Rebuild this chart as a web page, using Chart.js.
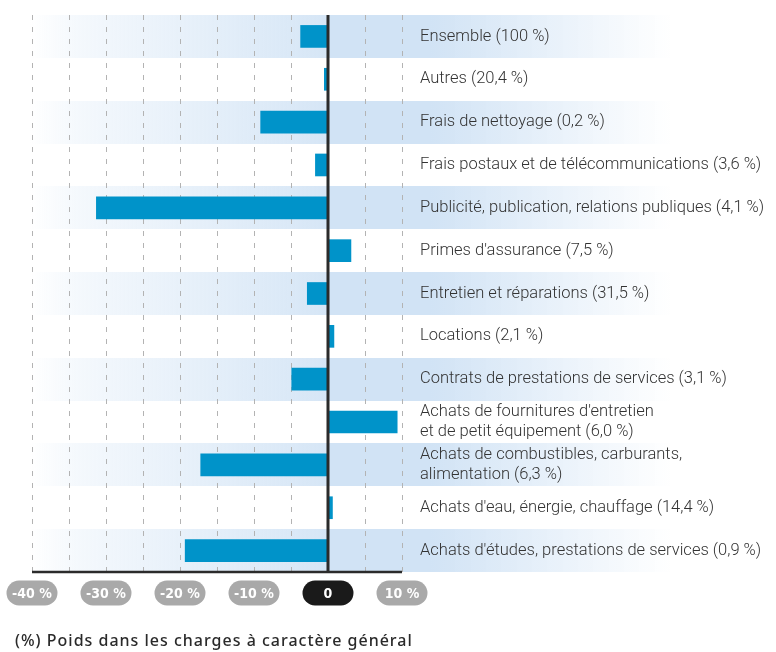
<!DOCTYPE html>
<html lang="fr">
<head>
  <meta charset="UTF-8" />
  <title>Poids dans les charges à caractère général</title>
  <script src="https://cdn.jsdelivr.net/npm/chart.js"></script>
  <style>
    html, body { margin: 0; padding: 0; background: #fff; }
    #wrap { width: 776px; height: 652px; }
  </style>
</head>
<body>
  <div id="wrap"><canvas id="chart" width="776" height="652"></canvas></div>

  <script>
    const categories = [
      'Ensemble (100 %)',
      'Autres (20,4 %)',
      'Frais de nettoyage (0,2 %)',
      'Frais postaux et de télécommunications (3,6 %)',
      'Publicité, publication, relations publiques (4,1 %)',
      "Primes d'assurance (7,5 %)",
      'Entretien et réparations (31,5 %)',
      'Locations (2,1 %)',
      'Contrats de prestations de services (3,1 %)',
      ["Achats de fournitures d'entretien", 'et de petit équipement (6,0 %)'],
      ['Achats de combustibles, carburants,', 'alimentation (6,3 %)'],
      "Achats d'eau, énergie, chauffage (14,4 %)",
      "Achats d'études, prestations de services (0,9 %)"
    ];
    const values = [-3.7, -0.5, -9.1, -1.7, -31.3, 3.1, -2.8, 0.8, -4.9, 9.35, -17.2, 0.6, -19.3];
    const tickValues = [-40, -30, -20, -10, 0, 10];
    const tickLabels = ['-40 %', '-30 %', '-20 %', '-10 %', '0', '10 %'];
    const axisTitle = '(%) Poids dans les charges à caractère général';

    // bandes alternées + pastilles + ligne du zéro
    const decor = {
      id: 'decor',
      beforeDatasetsDraw(chart) {
        const { ctx, chartArea, scales: { x, y } } = chart;
        const rowH = (chartArea.bottom - chartArea.top) / categories.length;
        const x0 = x.getPixelForValue(0);
        const gl = ctx.createLinearGradient(chartArea.left - 2, 0, x0, 0);
        gl.addColorStop(0, 'rgba(214,230,246,0)');
        gl.addColorStop(0.15, 'rgba(214,230,246,0.25)');
        gl.addColorStop(1, 'rgba(214,230,246,1)');
        const gr = ctx.createLinearGradient(x0, 0, 670, 0);
        gr.addColorStop(0, '#d1e3f5');
        gr.addColorStop(0.3, '#d1e3f5');
        gr.addColorStop(1, 'rgba(209,227,245,0)');
        ctx.save();
        ctx.globalCompositeOperation = 'destination-over';
        categories.forEach((c, i) => {
          if (i % 2) return;
          const cy = y.getPixelForValue(i);
          const top = Math.round(cy - rowH / 2);
          const h = Math.round(rowH);
          ctx.fillStyle = gl;
          ctx.fillRect(chartArea.left - 2, top, x0 - chartArea.left + 2, h);
          ctx.fillStyle = gr;
          ctx.fillRect(x0, top, 670 - x0, h);
        });
        ctx.restore();
      },
      afterDatasetsDraw(chart) {
        const { ctx, chartArea, scales: { x } } = chart;
        const x0 = x.getPixelForValue(0);
        ctx.save();
        ctx.strokeStyle = '#2b2b2b';
        ctx.lineWidth = 3;
        ctx.beginPath();
        ctx.moveTo(x0, chartArea.top);
        ctx.lineTo(x0, chartArea.bottom + 1);
        ctx.stroke();
        ctx.lineWidth = 2.5;
        ctx.beginPath();
        ctx.moveTo(x.getPixelForValue(-40), chartArea.bottom);
        ctx.lineTo(x.getPixelForValue(10), chartArea.bottom);
        ctx.stroke();

        // pastilles des graduations
        const py = chartArea.bottom + 21, pw = 51, ph = 25;
        ctx.font = 'bold 14px "DejaVu Sans Condensed", "DejaVu Sans", sans-serif';
        ctx.textAlign = 'center';
        ctx.textBaseline = 'middle';
        tickValues.forEach((v, i) => {
          const px = x.getPixelForValue(v);
          ctx.fillStyle = v === 0 ? '#1a1a1a' : '#a9a9a9';
          ctx.beginPath();
          ctx.roundRect(px - pw / 2, py - ph / 2, pw, ph, ph / 2);
          ctx.fill();
          ctx.fillStyle = '#fff';
          ctx.fillText(tickLabels[i], px, py + 1);
        });

        ctx.fillStyle = '#2a2a2a';
        ctx.textAlign = 'left';
        ctx.font = '500 16px "Noto Sans", sans-serif';
        ctx.letterSpacing = '1px';
        ctx.fillText(axisTitle, 15, 641);
        ctx.restore();
      }
    };

    new Chart(document.getElementById('chart'), {
      type: 'bar',
      data: {
        labels: categories,
        datasets: [{
          data: values,
          backgroundColor: '#0093c9',
          barThickness: 22
        }]
      },
      options: {
        indexAxis: 'y',
        responsive: false,
        animation: false,
        layout: { padding: { left: 32, top: 15, right: 0, bottom: 0 } },
        plugins: {
          legend: { display: false },
          tooltip: { enabled: false }
        },
        scales: {
          x: {
            min: -40,
            max: 10,
            ticks: { display: false, stepSize: 5 },
            border: { display: false, dash: [5, 7] },
            grid: {
              drawTicks: false,
              lineWidth: 1,
              color: ctx => ctx.tick && ctx.tick.value === 0 ? 'rgba(0,0,0,0)' : '#b3b3b3'
            },
            afterFit(scale) { scale.height = 80; }
          },
          y: {
            position: 'right',
            grid: { display: false, drawTicks: false },
            border: { display: false },
            ticks: {
              autoSkip: false,
              padding: 18,
              color: '#333',
              font: { family: 'Roboto', weight: 300, size: 16.5, lineHeight: 1.22 }
            },
            afterFit(scale) {
              scale.width = 374;
              scale.paddingTop = 0;
              scale.paddingBottom = 0;
            }
          }
        }
      },
      plugins: [decor]
    });
  </script>
</body>
</html>
